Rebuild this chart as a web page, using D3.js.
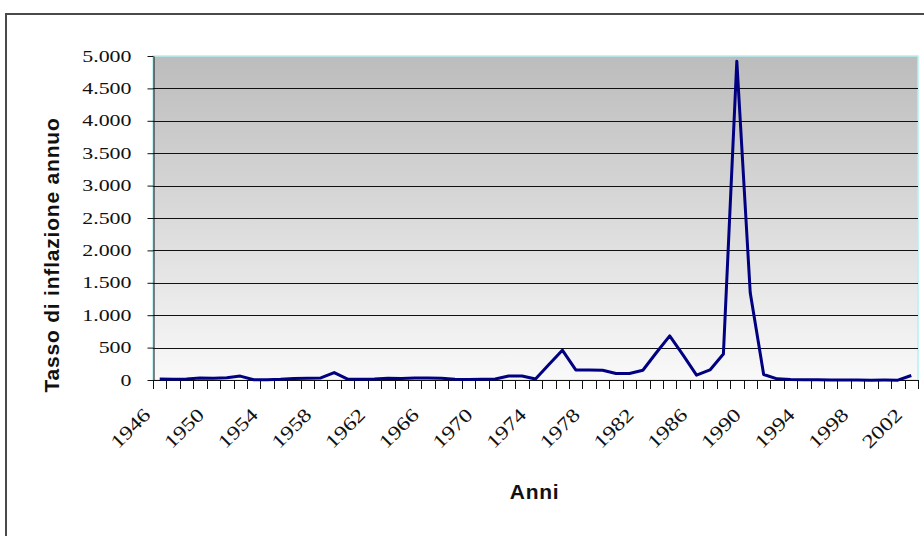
<!DOCTYPE html>
<html>
<head>
<meta charset="utf-8">
<script src="https://cdn.jsdelivr.net/npm/d3@7"></script>
<style>
  body { margin: 0; background: #fff; }
  svg { display: block; }
</style>
</head>
<body>
<svg id="chart" width="924" height="536"></svg>
<script>
// Annual inflation rate, 1946–2002
const years = [
  1946, 1947, 1948, 1949, 1950, 1951, 1952, 1953, 1954, 1955,
  1956, 1957, 1958, 1959, 1960, 1961, 1962, 1963, 1964, 1965,
  1966, 1967, 1968, 1969, 1970, 1971, 1972, 1973, 1974, 1975,
  1976, 1977, 1978, 1979, 1980, 1981, 1982, 1983, 1984, 1985,
  1986, 1987, 1988, 1989, 1990, 1991, 1992, 1993, 1994, 1995,
  1996, 1997, 1998, 1999, 2000, 2001, 2002
];
const inflation = [
  15, 12, 15, 30, 28, 36, 60, 5, 4, 10,
  25, 28, 32, 114, 15, 12, 15, 28, 25, 30,
  30, 28, 10, 7, 10, 15, 62, 62, 15, 240,
  460, 155, 155, 150, 100, 100, 150, 420, 680, 385,
  75, 155, 400, 4920, 1345, 85, 18, 7, 4, 2,
  0, 0, 1, -2, -1, -2, 70
];
const yTickValues = [0, 500, 1000, 1500, 2000, 2500, 3000, 3500, 4000, 4500, 5000];
const xLabelYears = [1946, 1950, 1954, 1958, 1962, 1966, 1970, 1974, 1978, 1982, 1986, 1990, 1994, 1998, 2002];
const yTitle = "Tasso di inflazione annuo";
const xTitle = "Anni";

const itLocale = d3.formatLocale({ decimal: ",", thousands: ".", grouping: [3], currency: ["€", ""] });
const fmt = itLocale.format(",d");

const plot = { left: 153, right: 918, top: 56, bottom: 380 };
const svg = d3.select("#chart");

// outer chart frame
svg.append("rect")
  .attr("x", 6).attr("y", 14)
  .attr("width", 950).attr("height", 560)
  .attr("fill", "#fff")
  .attr("stroke", "#4a4a4a")
  .attr("stroke-width", 2);

const defs = svg.append("defs");
const grad = defs.append("linearGradient")
  .attr("id", "plotFill")
  .attr("x1", 0).attr("y1", 0).attr("x2", 0).attr("y2", 1);
grad.append("stop").attr("offset", "0%").attr("stop-color", "#bcbcbc");
grad.append("stop").attr("offset", "100%").attr("stop-color", "#f9f9f9");

const x = d3.scaleBand().domain(years).range([plot.left, plot.right]).padding(0);
const y = d3.scaleLinear().domain([0, 5000]).range([plot.bottom, plot.top]);
const cx = d => x(d) + x.bandwidth() / 2;

// plot area with vertical grey gradient
svg.append("rect")
  .attr("x", plot.left).attr("y", plot.top)
  .attr("width", plot.right - plot.left)
  .attr("height", plot.bottom - plot.top)
  .attr("fill", "url(#plotFill)")
  .attr("stroke", "#b4f0f0")
  .attr("stroke-width", 1.5);

// horizontal gridlines
svg.append("g")
  .selectAll("line")
  .data(yTickValues.filter(v => v > 0 && v < 5000))
  .join("line")
  .attr("x1", plot.left).attr("x2", plot.right)
  .attr("y1", d => Math.round(y(d)) + 0.5)
  .attr("y2", d => Math.round(y(d)) + 0.5)
  .attr("stroke", "#111")
  .attr("stroke-width", 1);

// value axis
const yAxis = svg.append("g")
  .attr("transform", `translate(${plot.left + 0.5},0)`)
  .call(d3.axisLeft(y).tickValues(yTickValues).tickSize(6).tickSizeOuter(0).tickFormat(fmt));
yAxis.select(".domain").attr("stroke", "#111");
yAxis.selectAll(".tick line").attr("stroke", "#111");
const ySx = 1.37;
yAxis.selectAll(".tick text")
  .attr("x", -22 / ySx)
  .attr("transform", `scale(${ySx},1)`)
  .attr("fill", "#111")
  .style("font-family", "'Liberation Serif', 'Times New Roman', serif")
  .style("font-size", "16px");

// category axis: line and ticks at category boundaries
const xAxis = svg.append("g");
xAxis.append("line")
  .attr("x1", plot.left).attr("x2", plot.right)
  .attr("y1", plot.bottom + 0.5).attr("y2", plot.bottom + 0.5)
  .attr("stroke", "#111");
const boundaries = years.map(d => x(d)).concat([x.range()[1]]);
xAxis.selectAll("line.tick")
  .data(boundaries)
  .join("line")
  .attr("class", "tick")
  .attr("x1", d => Math.round(d) + 0.5).attr("x2", d => Math.round(d) + 0.5)
  .attr("y1", plot.bottom).attr("y2", plot.bottom + 9)
  .attr("stroke", "#111");

// rotated year labels
const xSx = 1.25;
xAxis.selectAll("text")
  .data(xLabelYears)
  .join("text")
  .attr("transform", d => `translate(${cx(d) - 8},${plot.bottom + 36}) rotate(-45) scale(${xSx},1)`)
  .attr("text-anchor", "end")
  .attr("fill", "#111")
  .style("font-family", "'Liberation Serif', 'Times New Roman', serif")
  .style("font-size", "19px")
  .text(d => d);

// series line
const line = d3.line()
  .x(d => cx(d.year))
  .y(d => y(d.value));
svg.append("path")
  .datum(years.map((yr, i) => ({ year: yr, value: inflation[i] })))
  .attr("d", line)
  .attr("fill", "none")
  .attr("stroke", "#000080")
  .attr("stroke-width", 3)
  .attr("stroke-linejoin", "round");

// axis titles
svg.append("text")
  .attr("x", (plot.left + plot.right) / 2 - 1)
  .attr("y", 499)
  .attr("text-anchor", "middle")
  .style("font-family", "'Liberation Sans', Arial, sans-serif")
  .style("font-weight", "bold")
  .style("font-size", "21px")
  .style("letter-spacing", "0.7px")
  .attr("fill", "#111")
  .text(xTitle);

svg.append("text")
  .attr("transform", `translate(59,255) rotate(-90)`)
  .attr("text-anchor", "middle")
  .style("font-family", "'Liberation Sans', Arial, sans-serif")
  .style("font-weight", "bold")
  .style("font-size", "21px")
  .style("letter-spacing", "0.8px")
  .attr("fill", "#111")
  .text(yTitle);
</script>
</body>
</html>
